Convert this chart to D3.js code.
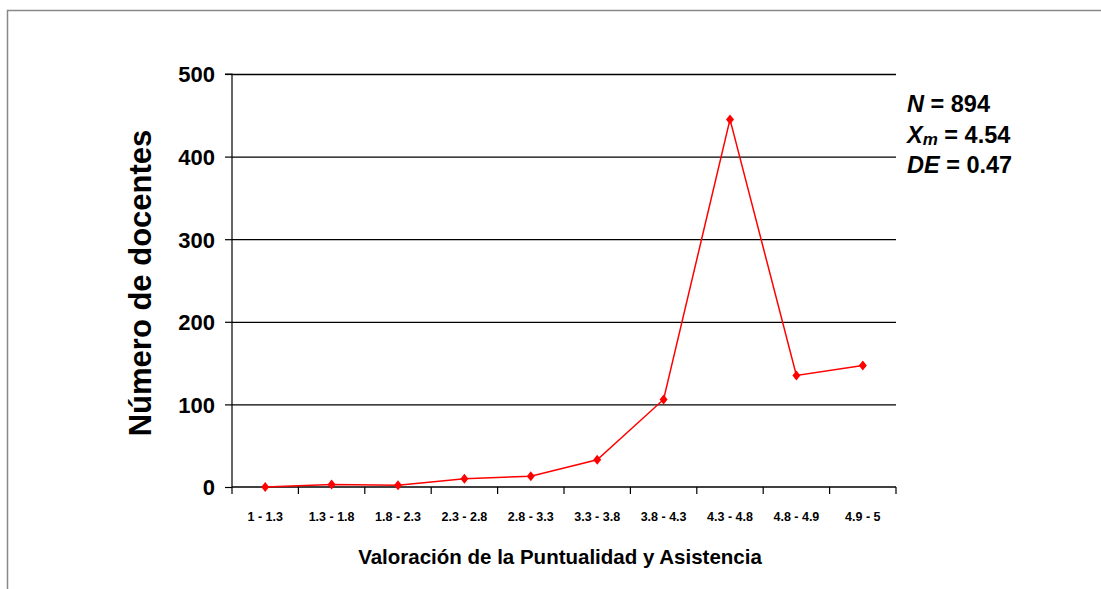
<!DOCTYPE html>
<html><head><meta charset="utf-8">
<script src="https://cdn.jsdelivr.net/npm/d3@7"></script>
<style>body{margin:0;background:#fff}svg{display:block}text{font-family:"Liberation Sans",Arial,sans-serif;font-weight:bold}</style>
</head><body>
<svg id="c" width="1101" height="589"></svg>
<script>
const categories = ["1 - 1.3","1.3 - 1.8","1.8 - 2.3","2.3 - 2.8","2.8 - 3.3","3.3 - 3.8","3.8 - 4.3","4.3 - 4.8","4.8 - 4.9","4.9 - 5"];
const docentes = [0,3,2,10,13,33,106,445,135,147];
const yTicks = [0,100,200,300,400,500];

const svg = d3.select("#c");
svg.append("path").attr("d","M7.5,589 L7.5,10.5 L1101,10.5").attr("fill","none").attr("stroke","#888").attr("stroke-width",1.5);

const L=232, R=896, T=74, B=487;
const x = d3.scaleBand().domain(categories).range([L,R]);
const y = d3.scaleLinear().domain([0,500]).range([B,T]);

svg.append("g").selectAll("line").data(yTicks.filter(d=>d>0)).join("line")
  .attr("x1",L).attr("x2",R).attr("y1",d=>y(d)+0.5).attr("y2",d=>y(d)+0.5)
  .attr("stroke","#000").attr("stroke-width",1.3);

const ya = svg.append("g").attr("transform",`translate(${L},0)`)
  .call(d3.axisLeft(y).tickValues(yTicks).tickSize(7).tickPadding(10).tickFormat(d3.format("d")));
ya.selectAll("text").attr("font-size",22).attr("fill","#000").attr("dy","0.36em");
ya.selectAll("line,path").attr("stroke","#000").attr("stroke-width",1.2);
ya.select(".domain").attr("d",`M-7,${T}H0V${B}`);

const xa = svg.append("g").attr("transform",`translate(0,${B})`)
  .call(d3.axisBottom(x).tickSize(0).tickPadding(25));
xa.selectAll("text").attr("font-size",12.5).attr("fill","#000").attr("font-family","'Liberation Sans Narrow','Liberation Sans',Arial,sans-serif");
xa.select(".domain").attr("stroke","#000").attr("stroke-width",1.5).attr("d",`M${L},0H${R}`);
const bounds = categories.map(c=>x(c)).concat([R]);
svg.append("g").selectAll("line").data(bounds).join("line")
  .attr("x1",d=>d).attr("x2",d=>d).attr("y1",B).attr("y2",B+7)
  .attr("stroke","#000").attr("stroke-width",1.2);

const cx = c=>x(c)+x.bandwidth()/2;
svg.append("path").datum(categories.map((c,i)=>[cx(c),y(docentes[i])]))
  .attr("d",d3.line()).attr("fill","none").attr("stroke","#ff0000").attr("stroke-width",1.5);
svg.append("g").selectAll("path").data(categories).join("path")
  .attr("transform",(c,i)=>`translate(${cx(c)},${y(docentes[i])})`)
  .attr("d","M0,-5L4,0L0,5L-4,0Z").attr("fill","#ff0000");

svg.append("text").attr("transform","translate(151,283) rotate(-90)").attr("text-anchor","middle")
  .attr("font-size",31).attr("fill","#000").text("Número de docentes");
svg.append("text").attr("x",560).attr("y",564).attr("text-anchor","middle")
  .attr("font-size",20.5).attr("fill","#000").text("Valoración de la Puntualidad y Asistencia");

const st = svg.append("g").attr("font-size",23.5).attr("fill","#000");
const t1 = st.append("text").attr("x",907).attr("y",112);
t1.append("tspan").attr("font-style","italic").text("N");
t1.append("tspan").text(" = 894");
const t2 = st.append("text").attr("x",907).attr("y",143);
t2.append("tspan").attr("font-style","italic").text("X");
t2.append("tspan").attr("font-style","italic").attr("font-size",17).attr("dy",2).text("m");
t2.append("tspan").attr("dy",-2).text(" = 4.54");
const t3 = st.append("text").attr("x",907).attr("y",173);
t3.append("tspan").attr("font-style","italic").text("DE");
t3.append("tspan").text(" = 0.47");
</script>
</body></html>
